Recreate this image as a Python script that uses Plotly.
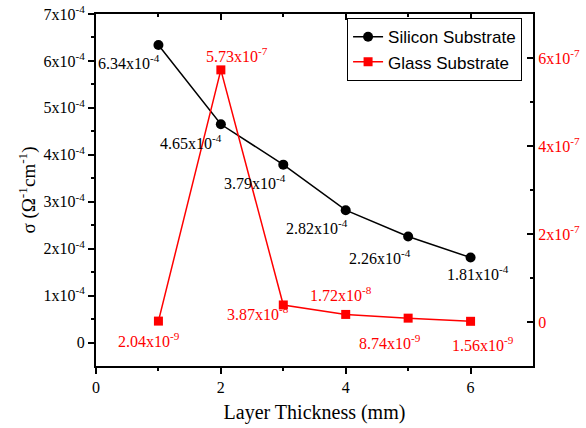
import math
import plotly.graph_objects as go

# Conductivity vs. layer thickness for two substrates
thickness = [1, 2, 3, 4, 5, 6]
silicon_sigma = [6.34e-4, 4.65e-4, 3.79e-4, 2.82e-4, 2.26e-4, 1.81e-4]
glass_sigma = [2.04e-9, 5.73e-7, 3.87e-8, 1.72e-8, 8.74e-9, 1.56e-9]

left_tickvals = [0, 1e-4, 2e-4, 3e-4, 4e-4, 5e-4, 6e-4, 7e-4]
left_ticktext = ["0"] + [f"{i}x10<sup>-4</sup>" for i in range(1, 8)]
right_tickvals = [0, 2e-7, 4e-7, 6e-7]
right_ticktext = ["0", "2x10<sup>-7</sup>", "4x10<sup>-7</sup>", "6x10<sup>-7</sup>"]

# pixel offsets of the value labels from their points (x right, y up)
silicon_label_shift = [(-29, -17), (-30, -18), (-28, -17), (-29, -17), (-28, -21), (7, -15)]
glass_label_shift = [(-9, -19), (16, 15), (-25, -8), (-5, 20), (-18, -24), (12, -23)]

SERIF = "Liberation Serif, Times New Roman, serif"
SANS = "Liberation Sans, Arial, sans-serif"
RED = "#ff0000"


def sci(v):
    e = math.floor(math.log10(v))
    m = v / 10 ** e
    return f"{m:.2f}x10<sup>{e}</sup>"


fig = go.Figure()

fig.add_trace(go.Scatter(
    x=thickness, y=silicon_sigma, name="Silicon Substrate",
    mode="lines+markers",
    line=dict(color="black", width=1.5),
    marker=dict(symbol="circle", size=10, color="black"),
    yaxis="y",
))
fig.add_trace(go.Scatter(
    x=thickness, y=glass_sigma, name="Glass Substrate",
    mode="lines+markers",
    line=dict(color=RED, width=1.5),
    marker=dict(symbol="square", size=9, color=RED),
    yaxis="y2",
))
# carrier for the mirrored top axis
fig.add_trace(go.Scatter(x=[], y=[], xaxis="x2", yaxis="y",
                         showlegend=False, hoverinfo="skip"))

annotations = []
for xv, yv, (dx, dy) in zip(thickness, silicon_sigma, silicon_label_shift):
    annotations.append(dict(x=xv, y=yv, xref="x", yref="y", text=sci(yv),
                            showarrow=False, xshift=dx, yshift=dy,
                            font=dict(family=SERIF, size=16, color="black")))
for xv, yv, (dx, dy) in zip(thickness, glass_sigma, glass_label_shift):
    annotations.append(dict(x=xv, y=yv, xref="x", yref="y2", text=sci(yv),
                            showarrow=False, xshift=dx, yshift=dy,
                            font=dict(family=SERIF, size=16, color=RED)))

fig.update_layout(
    width=586, height=428,
    margin=dict(l=96, r=53, t=14, b=62, autoexpand=False),
    paper_bgcolor="white", plot_bgcolor="white",
    font=dict(family=SERIF, size=16, color="black"),
    annotations=annotations,
    showlegend=True,
    legend=dict(
        x=0.975, y=0.988, xanchor="right", yanchor="top",
        bgcolor="white", bordercolor="black", borderwidth=1,
        font=dict(family=SANS, size=17, color="black"),
        tracegroupgap=0, itemsizing="trace",
    ),
    xaxis=dict(
        range=[0, 7], tickvals=[0, 2, 4, 6], ticktext=["0", "2", "4", "6"],
        ticks="outside", ticklen=6, tickwidth=2, tickcolor="black",
        minor=dict(tickvals=[1, 3, 5], ticks="outside", ticklen=3, tickwidth=2, tickcolor="black"),
        showline=True, linewidth=2, linecolor="black",
        showgrid=False, zeroline=False, automargin=False,
        tickfont=dict(family=SERIF, size=16, color="black"),
        title=dict(text="Layer Thickness (mm)", font=dict(family=SERIF, size=20), standoff=10),
    ),
    xaxis2=dict(
        range=[0, 7], overlaying="x", side="top", anchor="y",
        tickvals=[0, 2, 4, 6], ticks="inside", ticklen=6, tickwidth=2, tickcolor="black",
        minor=dict(tickvals=[1, 3, 5], ticks="inside", ticklen=3, tickwidth=2, tickcolor="black"),
        showticklabels=False, showline=True, linewidth=2, linecolor="black",
        showgrid=False, zeroline=False, automargin=False,
    ),
    yaxis=dict(
        range=[-0.5e-4, 7e-4], tickvals=left_tickvals, ticktext=left_ticktext,
        ticks="outside", ticklen=6, tickwidth=2, tickcolor="black",
        minor=dict(tickvals=[0.5e-4 + i * 1e-4 for i in range(7)], ticks="outside",
                   ticklen=3, tickwidth=2, tickcolor="black"),
        showline=True, linewidth=2, linecolor="black",
        showgrid=False, zeroline=False, automargin=False,
        tickfont=dict(family=SERIF, size=16, color="black"),
        title=dict(text="σ (Ω<sup>-1</sup>cm<sup>-1</sup>)", font=dict(family=SERIF, size=19), standoff=3),
    ),
    yaxis2=dict(
        range=[-1e-7, 7e-7], overlaying="y", side="right", anchor="x",
        tickvals=right_tickvals, ticktext=right_ticktext,
        ticks="inside", ticklen=6, tickwidth=2, tickcolor="black",
        minor=dict(tickvals=[1e-7, 3e-7, 5e-7], ticks="inside", ticklen=3, tickwidth=2, tickcolor="black"),
        showline=True, linewidth=2, linecolor="black",
        showgrid=False, zeroline=False, automargin=False,
        tickfont=dict(family=SERIF, size=16, color=RED),
    ),
)

fig.write_html("out.html")
